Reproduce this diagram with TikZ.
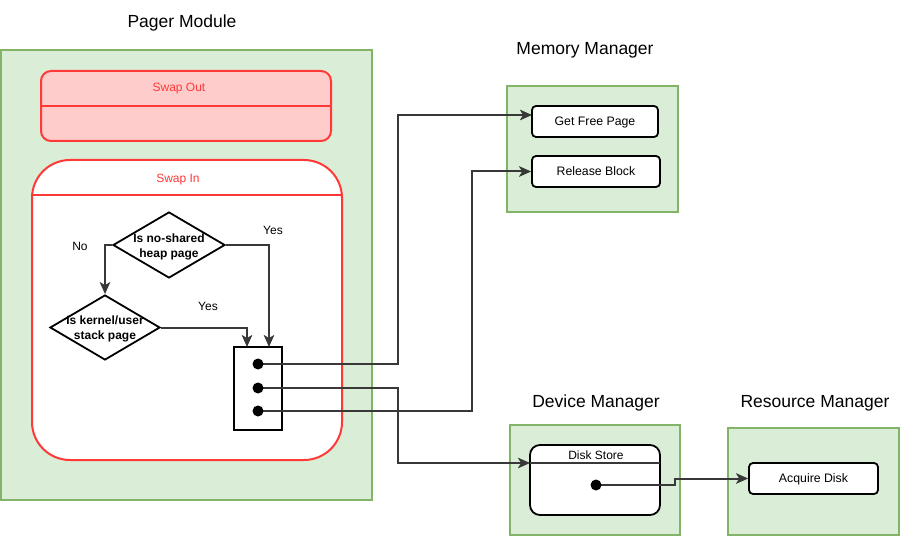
\documentclass[tikz,border=0pt]{standalone}
\usepackage{fontspec}
\setmainfont{Liberation Sans}
\usetikzlibrary{shapes.geometric,arrows.meta,calc}
\definecolor{gfill}{HTML}{DAEDD6}
\definecolor{gdraw}{HTML}{82B366}
\definecolor{rfill}{HTML}{FFCCCC}
\definecolor{rdraw}{HTML}{FF3838}
\definecolor{lnc}{HTML}{383838}
\tikzset{
  grp/.style={draw=gdraw,fill=gfill,line width=2pt,rectangle,inner sep=0pt},
  ttl/.style={font=\fontsize{17.5}{20}\selectfont,text depth=0pt},
  lbl/.style={font=\fontsize{12}{14}\selectfont,text depth=0pt},
  box/.style={draw=black,fill=white,line width=1.8pt,rounded corners=4pt,rectangle,inner sep=0pt,text depth=0pt,font=\fontsize{12.3}{14}\selectfont},
  dia/.style={draw=black,fill=white,line width=1.8pt,diamond,inner sep=0pt},
  diatxt/.style={font=\bfseries\fontsize{12}{15}\selectfont,align=center},
  arr/.style={draw=lnc,line width=2pt,-{Stealth[length=12pt,width=10.5pt,inset=3pt]}},
  dot/.style={circle,fill=black,inner sep=0pt,minimum size=11pt},
}
\begin{document}
\begin{tikzpicture}[x=1pt,y=-1pt]
\useasboundingbox (0,0) rectangle (910,537);
% titles
\node[ttl] (tpm) at (182,21) {Pager Module};
\node[ttl] (tmm) at (585,48) {Memory Manager};
\node[ttl] (tdm) at (596,401) {Device Manager};
\node[ttl] (trm) at (815,401) {Resource Manager};
% group containers
\path[grp] (1,50) rectangle (372,500);
\path[grp] (507,86) rectangle (678,212);
\path[grp] (510,425) rectangle (680,535);
\path[grp] (728,428) rectangle (899,535);
% swap out
\draw[draw=rdraw,fill=rfill,line width=2pt,rounded corners=10pt] (41,71) rectangle (331,141);
\draw[draw=rdraw,line width=2pt] (41,106) -- (331,106);
\node[lbl,text=rdraw] (so) at (179,87.5) {Swap Out};
% swap in
\draw[draw=rdraw,fill=white,line width=2pt,rounded corners=38pt] (32,160) rectangle (342,460);
\draw[draw=rdraw,line width=2pt] (32,195) -- (342,195);
\node[lbl,text=rdraw] (si) at (178,178) {Swap In};
% diamonds
\node[dia,minimum width=112pt,minimum height=66pt] (d1) at (169,245) {};
\node[diatxt] (d1t) at (169,246.5) {Is no-shared\\heap page};
\node[dia,minimum width=110pt,minimum height=65pt] (d2) at (105,327.5) {};
\node[diatxt] (d2t) at (105,329) {Is kernel/user\\stack page};
\node[lbl] (no) at (80,246.5) {No};
\node[lbl] (y1) at (273,230.5) {Yes};
\node[lbl] (y2) at (208,306.5) {Yes};
% collector box
\node[draw=black,fill=white,line width=1.8pt,minimum width=48pt,minimum height=83pt,inner sep=0pt] (cb) at (258,388.5) {};
\coordinate (cbl) at (247,347);
\coordinate (cbr) at (269,347);
\draw[arr] (d1.west) -| (d2.north);
\draw[arr] (d1.east) -| (cbr);
\draw[arr] (d2.east) -| (cbl);
% memory manager nodes
\node[box,minimum width=126pt,minimum height=31pt] (gfp) at (595,121.5) {Get Free Page};
\node[box,minimum width=128pt,minimum height=31pt] (rb) at (596,171.5) {Release Block};
\coordinate (gfpin) at (532,115);
% disk store
\draw[draw=black,fill=white,line width=1.8pt,rounded corners=10pt] (530,445) rectangle (660,515);
\draw[draw=lnc,line width=1.8pt] (530,463) -- (660,463);
\node[lbl] (ds) at (596,455) {Disk Store};
\coordinate (dsin) at (530,463);
% acquire disk
\node[box,minimum width=129pt,minimum height=31pt] (ad) at (813.5,478.5) {Acquire Disk};
% dots
\coordinate (p1) at (258,364);
\coordinate (p2) at (258,388);
\coordinate (p3) at (258,411);
\coordinate (p4) at (596,485);
\draw[arr] (p1) -- (398,364) |- (gfpin);
\draw[arr] (p3) -- (472,411) |- (rb.west);
\draw[arr] (p2) -- (398,388) |- (dsin);
\draw[arr] (p4) -- (675,485) -- (675,478.5) -- (ad.west);
\node[dot] (q1) at (p1) {};
\node[dot] (q2) at (p2) {};
\node[dot] (q3) at (p3) {};
\node[dot] (q4) at (p4) {};
\end{tikzpicture}
\end{document}
